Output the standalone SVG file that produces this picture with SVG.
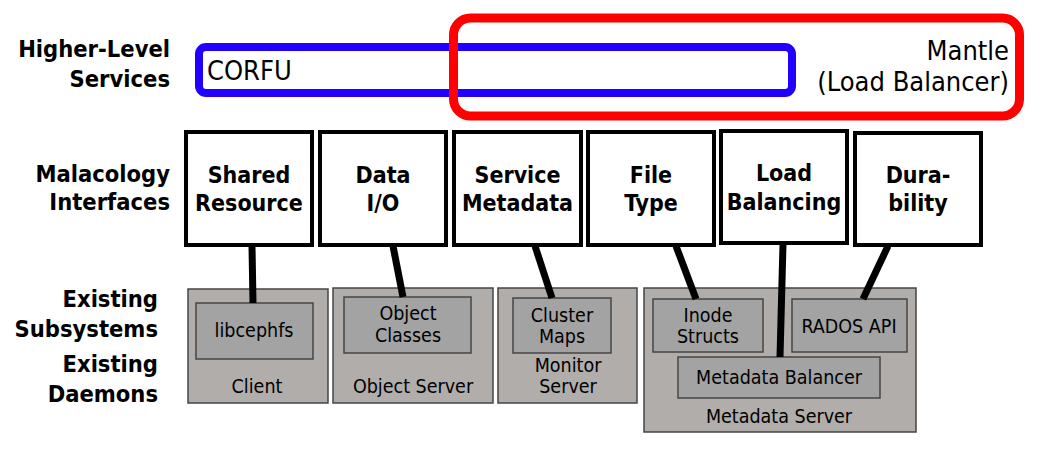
<svg xmlns="http://www.w3.org/2000/svg" width="1040" height="449" viewBox="0 0 1040 449">
<style>
text{font-family:"DejaVu Sans Condensed","DejaVu Sans",sans-serif;font-stretch:condensed;fill:#000}
.lab{font-weight:bold;font-size:23.5px;text-anchor:end}
.ifc rect{fill:#fff;stroke:#000;stroke-width:4}
.ifc text{font-weight:bold;font-size:23px;text-anchor:middle}
.dae>rect{fill:#b0adab;stroke:#454545;stroke-width:1.5}
.sub rect{fill:#a3a3a3;stroke:#454545;stroke-width:1.5}
.dae text{font-size:19.5px;text-anchor:middle}
.big{font-size:27px}
#connectors line{stroke:#000;stroke-width:7}
</style>
<rect width="1040" height="449" fill="#fff"/>
<g id="labels">
<text class="lab" x="170" y="57">Higher-Level</text>
<text class="lab" x="170" y="87">Services</text>
<text class="lab" x="170" y="182">Malacology</text>
<text class="lab" x="170" y="210">Interfaces</text>
<text class="lab" x="158" y="307">Existing</text>
<text class="lab" x="158" y="337">Subsystems</text>
<text class="lab" x="158" y="372">Existing</text>
<text class="lab" x="158" y="402">Daemons</text>
</g>
<g id="corfu">
<rect x="199" y="47" width="593" height="46" rx="7" fill="none" stroke="#2200ff" stroke-width="8"/>
<text class="big" x="207" y="80">CORFU</text>
</g>
<g id="mantle">
<rect x="453.5" y="18" width="566" height="98" rx="17" fill="none" stroke="#ff0000" stroke-width="9"/>
<text class="big" x="1009" y="60" text-anchor="end">Mantle</text>
<text class="big" x="1009" y="91" text-anchor="end">(Load Balancer)</text>
</g>
<g id="if-shared" class="ifc"><rect x="186" y="132" width="126" height="113"/><text x="249" y="183">Shared</text><text x="249" y="211">Resource</text></g>
<g id="if-data" class="ifc"><rect x="320" y="132" width="126" height="113"/><text x="383" y="183">Data</text><text x="383" y="211">I/O</text></g>
<g id="if-service" class="ifc"><rect x="454" y="132" width="127" height="113"/><text x="517.5" y="183">Service</text><text x="517.5" y="211">Metadata</text></g>
<g id="if-file" class="ifc"><rect x="588" y="132" width="126" height="113"/><text x="651" y="183">File</text><text x="651" y="211">Type</text></g>
<g id="if-load" class="ifc"><rect x="721" y="131" width="126" height="112"/><text x="784" y="181">Load</text><text x="784" y="210">Balancing</text></g>
<g id="if-dura" class="ifc"><rect x="855" y="133" width="126" height="112"/><text x="918" y="183">Dura-</text><text x="918" y="211">bility</text></g>
<g id="client" class="dae">
<rect x="188" y="289" width="140" height="114"/>
<g class="sub"><rect x="196" y="303" width="117" height="56"/></g>
<text x="254" y="337">libcephfs</text>
<text x="257" y="393">Client</text>
</g>
<g id="objserver" class="dae">
<rect x="333" y="288" width="160" height="115"/>
<g class="sub"><rect x="344" y="297" width="127" height="56"/></g>
<text x="408" y="320">Object</text>
<text x="408" y="342">Classes</text>
<text x="413" y="393">Object Server</text>
</g>
<g id="monitor" class="dae">
<rect x="498" y="288" width="139" height="115"/>
<g class="sub"><rect x="513" y="298" width="98" height="55"/></g>
<text x="562" y="322">Cluster</text>
<text x="562" y="343">Maps</text>
<text x="568" y="372">Monitor</text>
<text x="568" y="393">Server</text>
</g>
<g id="mdserver" class="dae">
<rect x="644" y="288" width="272" height="144"/>
<g class="sub"><rect x="653" y="299" width="110" height="53"/><rect x="792" y="299" width="115" height="53"/><rect x="678" y="357" width="202" height="41"/></g>
<text x="708" y="322">Inode</text>
<text x="708" y="343">Structs</text>
<text x="849" y="333">RADOS API</text>
<text x="779" y="384">Metadata Balancer</text>
<text x="779" y="423">Metadata Server</text>
</g>
<g id="connectors">
<line x1="252" y1="246" x2="253" y2="303"/>
<line x1="393" y1="246" x2="403" y2="297"/>
<line x1="535" y1="246" x2="552" y2="298"/>
<line x1="676" y1="246" x2="696" y2="299"/>
<line x1="783" y1="244" x2="780" y2="357"/>
<line x1="888" y1="246" x2="863" y2="299"/>
</g>
</svg>
